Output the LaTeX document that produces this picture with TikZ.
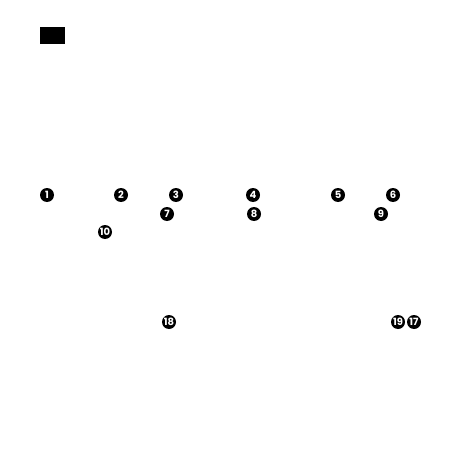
\documentclass[tikz,border=0pt]{standalone}
\usepackage{fontspec}
\setmainfont{Poppins}
\begin{document}
\begin{tikzpicture}[x=1pt,y=-1pt,
  badge/.style={circle,fill=black,text=white,inner sep=0pt,minimum size=14pt,font=\bfseries\fontsize{10}{10}\selectfont},
  blk/.style={fill=black,draw=none}]
\useasboundingbox (0,0) rectangle (454,454);
\fill[white] (0,0) rectangle (454,454);
\node[blk,minimum width=25pt,minimum height=17pt,inner sep=0pt] (box) at (52.5,35.5) {};
\node[badge] (n1) at (47,195) {1};
\node[badge] (n2) at (121,195) {2};
\node[badge] (n3) at (176,195) {3};
\node[badge] (n4) at (253,195) {4};
\node[badge] (n5) at (338,195) {5};
\node[badge] (n6) at (393,195) {6};
\node[badge] (n7) at (167,214) {7};
\node[badge] (n8) at (254,214) {8};
\node[badge] (n9) at (381,214) {9};
\node[badge] (n10) at (105,232) {10};
\node[badge] (n18) at (169,322) {18};
\node[badge] (n19) at (398,322) {19};
\node[badge] (n17) at (414,322) {17};
\end{tikzpicture}
\end{document}
